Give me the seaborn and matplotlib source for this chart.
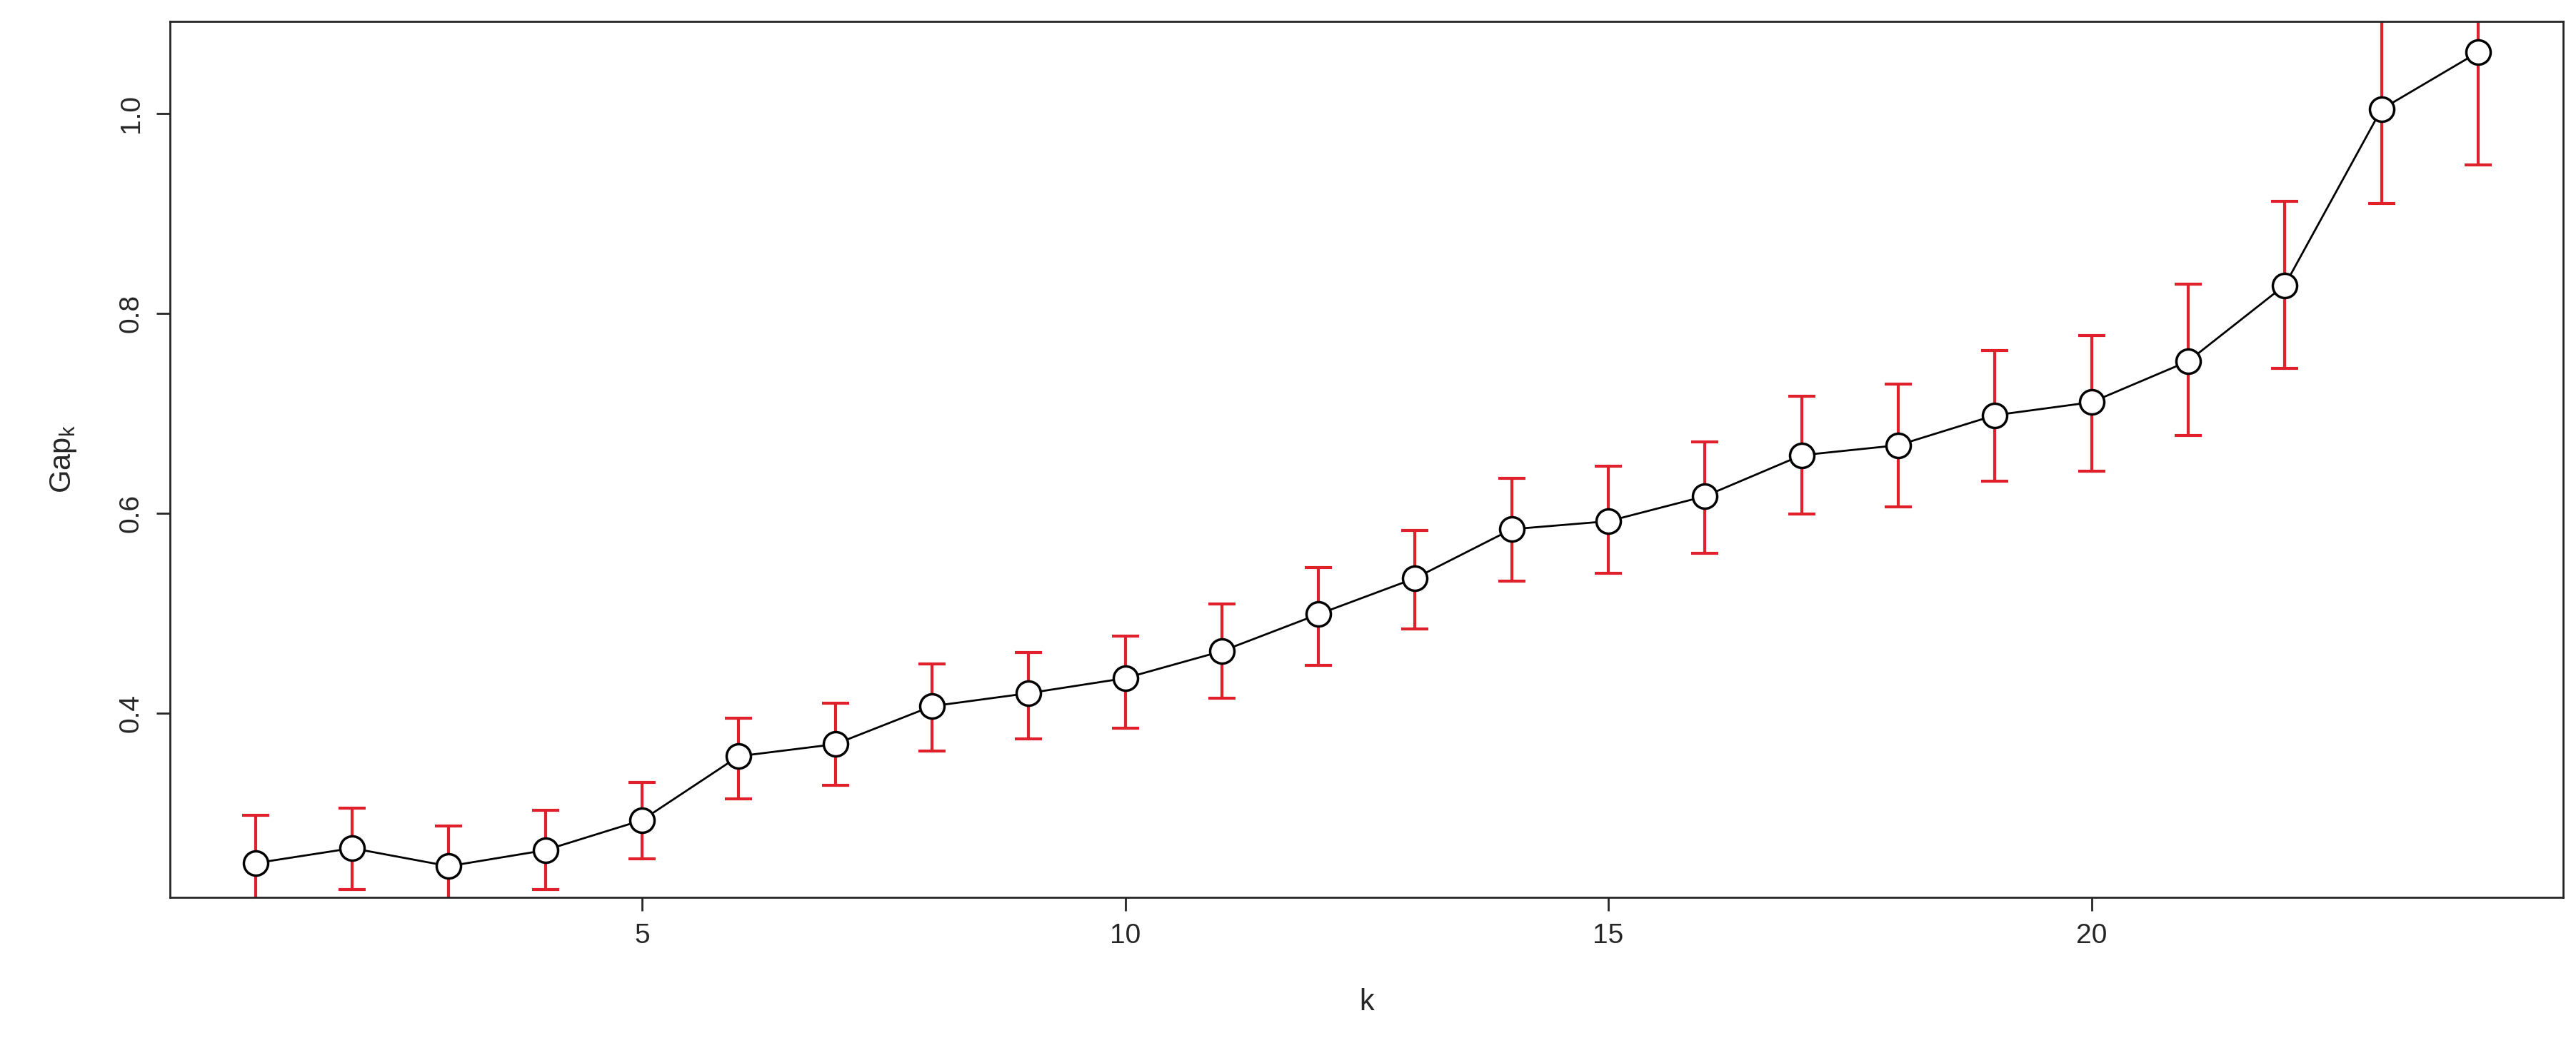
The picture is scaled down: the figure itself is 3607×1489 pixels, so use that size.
import numpy as np
import seaborn as sns
import matplotlib.pyplot as plt

# Gap statistic values.
k = list(range(1, 25))
gap = [0.250, 0.265, 0.247, 0.263, 0.293, 0.357, 0.369, 0.407, 0.420, 0.435,
       0.462, 0.499, 0.535, 0.584, 0.592, 0.617, 0.658, 0.668, 0.698, 0.711,
       0.752, 0.828, 1.004, 1.061]
upper = [0.298, 0.305, 0.287, 0.303, 0.331, 0.395, 0.410, 0.449, 0.461, 0.477,
         0.509, 0.546, 0.583, 0.635, 0.647, 0.671, 0.717, 0.729, 0.763, 0.778,
         0.829, 0.912, 1.100, 1.170]
lower = [0.205, 0.224, 0.210, 0.224, 0.254, 0.314, 0.328, 0.362, 0.374, 0.385,
         0.415, 0.448, 0.484, 0.532, 0.540, 0.560, 0.599, 0.606, 0.632, 0.642,
         0.678, 0.745, 0.910, 0.948]

sns.set_style("ticks")
plt.rcParams["font.family"] = ["Liberation Sans", "DejaVu Sans"]

fig = plt.figure(figsize=(36.07, 14.89), dpi=100)
ax = fig.add_axes([0.066, 0.156, 0.929, 0.824])

gap_arr = np.array(gap)
ax.errorbar(k, gap, yerr=[gap_arr - np.array(lower), np.array(upper) - gap_arr],
            fmt="none", ecolor="#e0202a", elinewidth=3, capsize=14,
            capthick=3, zorder=1)
sns.lineplot(x=k, y=gap, ax=ax, color="black", linewidth=2, zorder=2)
ax.scatter(k, gap, s=600, facecolor="white", edgecolor="black",
           linewidth=2.5, zorder=3)

ax.set_xlim(0.116, 24.88)
ax.set_ylim(0.216, 1.092)
ax.set_xticks([5, 10, 15, 20])
ax.set_yticks([0.4, 0.6, 0.8, 1.0])
ax.tick_params(labelsize=28, length=14, width=2, pad=12)
for lab in ax.get_yticklabels():
    lab.set_rotation(90)
    lab.set_va("center")
for s in ax.spines.values():
    s.set_linewidth(2)
    s.set_visible(True)

ax.set_xlabel("k", fontsize=30, labelpad=40)
ax.set_ylabel("Gap$_\\mathregular{k}$", fontsize=30, labelpad=40)

fig.savefig("out.png", dpi=100)
